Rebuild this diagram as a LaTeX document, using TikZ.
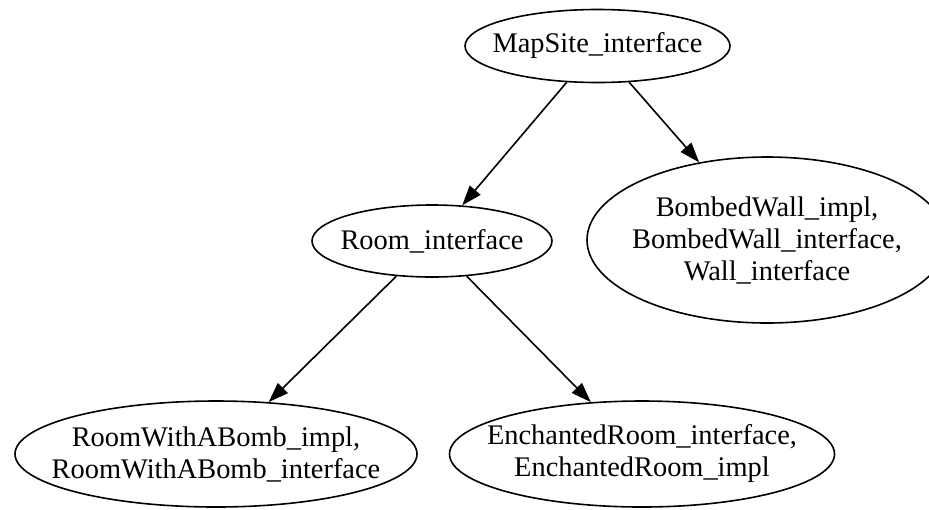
\documentclass[tikz,border=0pt]{standalone}
\usepackage{fontspec}
\setmainfont{Liberation Serif}
\usetikzlibrary{positioning}
\usetikzlibrary{arrows.meta,shapes}

\tikzset{
  site/.style={draw, ellipse, line width=0.8pt, inner sep=-20pt, align=center,
    font=\fontsize{14.2}{16}\selectfont},
  dep/.style={-{Triangle[length=10pt,width=7pt]}, line width=0.8pt}
}

\begin{document}
\begin{tikzpicture}[on grid]
  \useasboundingbox (0,0) rectangle (464.5pt,-254.5pt);
  \node[site, minimum width=132.5pt, minimum height=36.5pt] (mapsite) at (298.75pt,-23pt) {MapSite\_interface};
  \node[site, minimum width=120pt, minimum height=36pt] (room) [below left=97.5pt and 82.75pt of mapsite] {Room\_interface};
  \node[site, minimum width=180pt, minimum height=83pt] (bombed) [below right=97pt and 84.75pt of mapsite] {BombedWall\_impl,\\ BombedWall\_interface,\\ Wall\_interface};
  \node[site, minimum width=201pt, minimum height=53pt] (rwab) [below left=106.5pt and 108pt of room] {RoomWithABomb\_impl,\\ RoomWithABomb\_interface};
  \node[site, minimum width=192.5pt, minimum height=53pt] (enchanted) [below right=106.5pt and 105pt of room] {EnchantedRoom\_interface,\\ EnchantedRoom\_impl};
  \draw[dep] (mapsite) -- (room);
  \draw[dep] (mapsite) -- (bombed);
  \draw[dep] (room) -- (rwab);
  \draw[dep] (room) -- (enchanted);
\end{tikzpicture}
\end{document}
